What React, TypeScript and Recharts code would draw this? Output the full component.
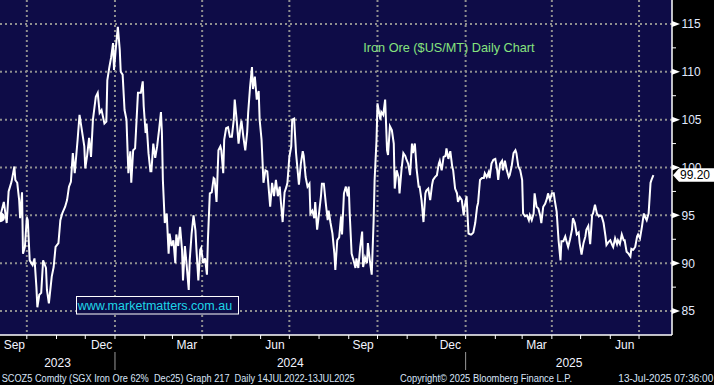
import React from 'react';
import { ComposedChart, Line, XAxis, YAxis, CartesianGrid } from 'recharts';

// x values: days since 1 Sep 2023
const days = [
  2, 6, 9, 11, 14, 17, 18, 20, 22, 23, 25, 26, 28, 30, 31, 33, 36, 38, 40, 41, 43, 45, 47, 50, 51, 53, 56, 58, 60, 63,
  65, 67, 70, 72, 74, 76, 78, 80, 83, 85, 87, 90, 91, 93, 95, 97, 99, 102, 104, 106, 108, 111, 113, 114, 116, 118, 120, 121, 123, 125,
  127, 128, 130, 132, 134, 136, 138, 139, 141, 143, 144, 146, 149, 151, 152, 154, 155, 157, 159, 160, 162, 164, 166, 168, 170, 171, 172, 174, 176, 178,
  179, 181, 183, 185, 186, 188, 190, 192, 193, 195, 197, 199, 200, 202, 204, 206, 207, 209, 211, 212, 214, 216, 218, 219, 221, 223, 225, 226, 228, 230,
  232, 233, 235, 236, 238, 240, 242, 244, 246, 247, 249, 251, 253, 254, 256, 258, 260, 261, 263, 265, 266, 268, 270, 272, 273, 275, 277, 279, 281, 284,
  286, 288, 290, 292, 294, 295, 297, 299, 301, 302, 304, 306, 307, 309, 311, 312, 314, 316, 318, 319, 321, 323, 325, 326, 328, 330, 331, 333, 335, 337,
  338, 340, 342, 344, 345, 347, 349, 351, 352, 354, 356, 358, 359, 361, 363, 365, 366, 367, 369, 371, 373, 374, 376, 378, 380, 381, 383, 385, 386, 388,
  390, 392, 393, 395, 396, 399, 400, 402, 404, 406, 407, 409, 411, 413, 414, 416, 418, 419, 421, 423, 425, 426, 428, 430, 432, 433, 435, 437, 439, 440,
  442, 444, 446, 447, 449, 451, 453, 454, 456, 458, 460, 461, 463, 465, 467, 468, 470, 472, 474, 475, 477, 479, 480, 482, 484, 486, 487, 489, 491, 493,
  494, 496, 498, 500, 501, 503, 505, 507, 508, 510, 512, 513, 515, 517, 519, 521, 522, 524, 526, 527, 529, 531, 533, 534, 536, 538, 540, 541, 543, 545,
  547, 548, 550, 552, 554, 555, 557, 559, 560, 562, 564, 566, 567, 569, 571, 573, 574, 576, 578, 580, 581, 583, 585, 587, 588, 590, 592, 593, 595, 597,
  599, 600, 602, 604, 606, 607, 609, 611, 613, 614, 616, 618, 620, 621, 623, 625, 627, 628, 630, 632, 634, 635, 637, 639, 641, 642, 644, 646, 647, 649,
  651, 653, 654, 656, 658, 660, 661, 663, 665, 667, 668, 670, 672, 674, 675, 677, 679, 681, 682, 684,
];

const prices = [
  94.8, 96.4, 94.2, 97.5, 98.5, 100.1, 98.7, 98.4, 96.6, 94.7, 97.4, 91.0, 91.7, 94.8, 94.5, 90.3, 89.8, 90.5, 87.5, 85.4, 86.7, 86.9, 90.3, 89.5, 87.2, 85.8, 88.6, 89.6, 91.7, 92.1,
  94.5, 95.2, 95.9, 96.6, 98.0, 98.5, 101.5, 99.4, 102.9, 105.5, 104.2, 102.2, 99.9, 101.3, 103.1, 101.1, 105.0, 107.4, 107.8, 105.7, 106.0, 104.6, 104.8, 109.1, 110.4, 111.5, 113.0, 110.2, 112.6, 114.7,
  112.3, 110.0, 109.7, 106.0, 105.0, 99.4, 101.7, 98.4, 101.8, 102.0, 103.9, 107.8, 107.8, 109.0, 106.4, 103.6, 104.6, 101.5, 99.6, 99.6, 102.5, 101.0, 102.2, 103.9, 105.8, 103.6, 98.7, 94.2, 95.2, 91.0,
  93.1, 91.8, 92.4, 90.0, 93.0, 91.8, 93.8, 91.4, 88.2, 91.8, 89.6, 87.2, 90.3, 93.1, 95.0, 93.4, 91.5, 88.2, 91.4, 91.6, 90.0, 90.5, 88.8, 92.4, 97.3, 97.4, 98.9, 98.8, 96.4, 101.8,
  102.2, 101.8, 99.4, 102.9, 104.1, 104.2, 103.2, 103.2, 105.0, 107.1, 105.0, 102.5, 104.3, 104.9, 103.2, 101.8, 103.7, 105.7, 108.4, 110.5, 108.2, 109.5, 107.1, 108.0, 105.0, 102.9, 98.4, 99.7, 99.6, 95.9,
  98.4, 97.0, 98.7, 97.0, 98.0, 96.6, 94.3, 97.4, 98.0, 98.4, 101.1, 102.2, 105.0, 105.1, 101.5, 100.4, 98.2, 100.4, 101.7, 101.2, 99.0, 98.0, 98.3, 95.2, 95.5, 94.7, 96.4, 93.5, 95.2, 97.0,
  98.3, 98.3, 96.3, 94.5, 95.5, 94.2, 93.1, 91.0, 89.3, 92.4, 92.7, 94.9, 93.0, 97.3, 98.0, 97.0, 98.0, 95.2, 91.0, 90.3, 89.5, 90.5, 89.5, 91.7, 93.3, 89.6, 90.6, 90.0, 92.1, 90.3,
  88.8, 94.5, 98.7, 102.9, 106.7, 105.0, 105.8, 105.5, 107.1, 101.8, 101.3, 104.3, 103.9, 102.5, 97.8, 99.7, 99.0, 97.3, 99.7, 101.5, 101.2, 100.9, 100.4, 99.2, 102.5, 101.5, 102.5, 99.7, 98.0, 98.0,
  96.6, 94.3, 97.3, 97.6, 97.8, 96.6, 98.2, 98.7, 99.0, 99.2, 100.4, 100.7, 99.7, 101.1, 101.2, 102.0, 100.9, 101.7, 100.1, 99.7, 97.8, 97.3, 96.4, 96.9, 96.6, 95.0, 95.9, 97.0, 93.1, 93.0,
  93.0, 93.2, 94.2, 95.9, 96.3, 98.7, 98.9, 98.9, 99.4, 99.0, 99.5, 98.9, 100.4, 100.8, 100.9, 99.7, 98.7, 100.4, 100.7, 99.7, 100.7, 99.7, 99.0, 99.2, 100.1, 101.5, 101.8, 101.5, 100.1, 99.7,
  98.7, 95.2, 94.9, 95.0, 94.5, 95.0, 94.5, 95.2, 97.3, 95.9, 95.7, 94.9, 94.2, 95.9, 96.2, 96.8, 97.3, 96.6, 97.3, 97.3, 96.6, 95.4, 92.4, 90.3, 92.3, 92.3, 92.8, 92.4, 91.7, 92.5,
  93.5, 94.7, 94.2, 93.0, 93.2, 92.1, 90.9, 92.1, 92.8, 93.5, 93.9, 92.0, 95.0, 95.2, 96.1, 95.2, 94.9, 95.0, 94.9, 94.2, 92.8, 91.9, 92.2, 92.4, 91.9, 91.7, 92.6, 92.0, 92.4, 92.0,
  93.0, 92.4, 92.4, 91.2, 91.0, 90.7, 91.5, 91.4, 91.7, 92.8, 93.0, 92.6, 93.8, 95.2, 94.9, 94.5, 95.2, 98.4, 98.7, 99.2,
];

const data = days.map((d, i) => ({ day: d, price: prices[i] }));

const monthStarts = [30, 61, 91, 122, 153, 182, 213, 243, 274, 304, 335, 366, 396, 427, 457, 488, 519, 547, 578, 608, 639, 669];
const monthLabelDays = [17, 108, 197, 289, 381, 472, 562, 654];
const monthLabels = ['Sep', 'Dec', 'Mar', 'Jun', 'Sep', 'Dec', 'Mar', 'Jun'];
const yearStarts = [122, 488];
const yearLabelDays = [62, 305, 596];
const yearLabels = ['2023', '2024', '2025'];
const quarterDays = [30, 122, 213, 304, 396, 488, 578, 669];
const majorY = [85, 90, 95, 100, 105, 110, 115];
const minorY = [87.5, 92.5, 97.5, 102.5, 107.5, 112.5];
const lastPrice = 99.2;
const lastPriceLabel = '99.20';

const xTicks = [...monthStarts, ...monthLabelDays, ...yearLabelDays].sort((a, b) => a - b);
const yTicks = [...minorY, ...majorY, lastPrice];

const FONT = '"Liberation Sans", Arial, sans-serif';
const PLOT_BG = '#0e0c47';

const XTick = (props: any) => {
  const { x, y, payload } = props;
  const v = payload.value;
  const els: any[] = [];
  if (monthStarts.includes(v)) {
    els.push(<line key="t" x1={x} x2={x} y1={y} y2={y + 4} stroke="#ffffff" strokeWidth={1} />);
  }
  if (yearStarts.includes(v)) {
    els.push(<line key="s" x1={x} x2={x} y1={y + 17} y2={y + 35} stroke="#9a9a9a" strokeWidth={1} />);
  }
  const mi = monthLabelDays.indexOf(v);
  if (mi >= 0) {
    els.push(
      <text key="m" x={x} y={y + 14} textAnchor="middle" fontSize={12} fill="#f2f4ff" fontFamily={FONT}>
        {monthLabels[mi]}
      </text>
    );
  }
  const yi = yearLabelDays.indexOf(v);
  if (yi >= 0) {
    els.push(
      <text key="y" x={x} y={y + 31.5} textAnchor="middle" fontSize={12} fill="#f2f4ff" fontFamily={FONT}>
        {yearLabels[yi]}
      </text>
    );
  }
  return <g>{els}</g>;
};

const YTick = (props: any) => {
  const { x, y, payload } = props;
  const v = payload.value;
  if (v === lastPrice) {
    return (
      <g>
        <polygon
          points={`${x + 1},${y} ${x + 7},${y - 7} ${x + 42},${y - 7} ${x + 42},${y + 6.5} ${x + 7},${y + 6.5}`}
          fill="#ffffff"
        />
        <text x={x + 8} y={y + 4.3} fontSize={12} fill="#000000" fontFamily={FONT}>
          {lastPriceLabel}
        </text>
      </g>
    );
  }
  if (majorY.includes(v)) {
    return (
      <g>
        <polygon points={`${x},${y - 3} ${x + 8},${y} ${x},${y + 3}`} fill="#ffffff" />
        <text x={x + 9.5} y={y + 4.3} fontSize={12} fill="#e2eaff" fontFamily={FONT}>
          {v}
        </text>
      </g>
    );
  }
  return <line x1={x} x2={x + 4} y1={y} y2={y} stroke="#ffffff" strokeWidth={1} />;
};

export default function App() {
  return (
    <div style={{ position: 'absolute', left: 0, top: 0, width: 714, height: 385, background: '#000000', overflow: 'hidden' }}>
      <ComposedChart width={714} height={385} data={data} margin={{ top: 0, right: 0, bottom: 0, left: 0 }}>
        <CartesianGrid
          fill={PLOT_BG}
          fillOpacity={1}
          stroke="#8f8f8f"
          strokeWidth={2}
          strokeDasharray="2 3"
          horizontalValues={majorY}
          verticalValues={quarterDays}
        />
        <XAxis
          dataKey="day"
          type="number"
          domain={[2, 703.4]}
          allowDataOverflow
          ticks={xTicks}
          interval={0}
          tickLine={false}
          tickSize={0}
          tickMargin={0}
          height={50}
          axisLine={{ stroke: '#ffffff', strokeWidth: 1.5 }}
          tick={<XTick />}
        />
        <YAxis
          orientation="right"
          type="number"
          domain={[82.5, 117.5]}
          allowDataOverflow
          ticks={yTicks}
          interval={0}
          tickLine={false}
          tickSize={0}
          tickMargin={0}
          width={42}
          axisLine={{ stroke: '#ffffff', strokeWidth: 1.5 }}
          tick={<YTick />}
        />
        <Line
          type="linear"
          dataKey="price"
          stroke="#ffffff"
          strokeWidth={2}
          dot={false}
          isAnimationActive={false}
        />
      </ComposedChart>
      <svg width={714} height={385} style={{ position: 'absolute', left: 0, top: 0, pointerEvents: 'none' }}>
        <text x={363.3} y={51.5} fontSize={12.7} fill="#86e37e" fontFamily={FONT}>
          Iron Ore ($US/MT) Daily Chart
        </text>
        <rect x={76.5} y={296.5} width={162} height={17.5} fill={PLOT_BG} stroke="#ffffff" strokeWidth={1} />
        <text x={77.7} y={310.3} fontSize={12.5} fill="#1ed6e8" fontFamily={FONT} textLength={154.5} lengthAdjust="spacingAndGlyphs">
          www.marketmatters.com.au
        </text>
        <text x={1.7} y={381.5} fontSize={10} fill="#d8e4f8" fontFamily={FONT} textLength={353} lengthAdjust="spacingAndGlyphs" style={{ whiteSpace: 'pre' }}>
          {'SCOZ5 Comdty (SGX Iron Ore 62%  Dec25) Graph 217  Daily 14JUL2022-13JUL2025'}
        </text>
        <text x={400} y={381.5} fontSize={10} fill="#d8e4f8" fontFamily={FONT} textLength={172} lengthAdjust="spacingAndGlyphs">
          Copyright© 2025 Bloomberg Finance L.P.
        </text>
        <text x={618.3} y={381.5} fontSize={10} fill="#d8e4f8" fontFamily={FONT} textLength={95} lengthAdjust="spacingAndGlyphs">
          13-Jul-2025 07:36:00
        </text>
      </svg>
    </div>
  );
}
